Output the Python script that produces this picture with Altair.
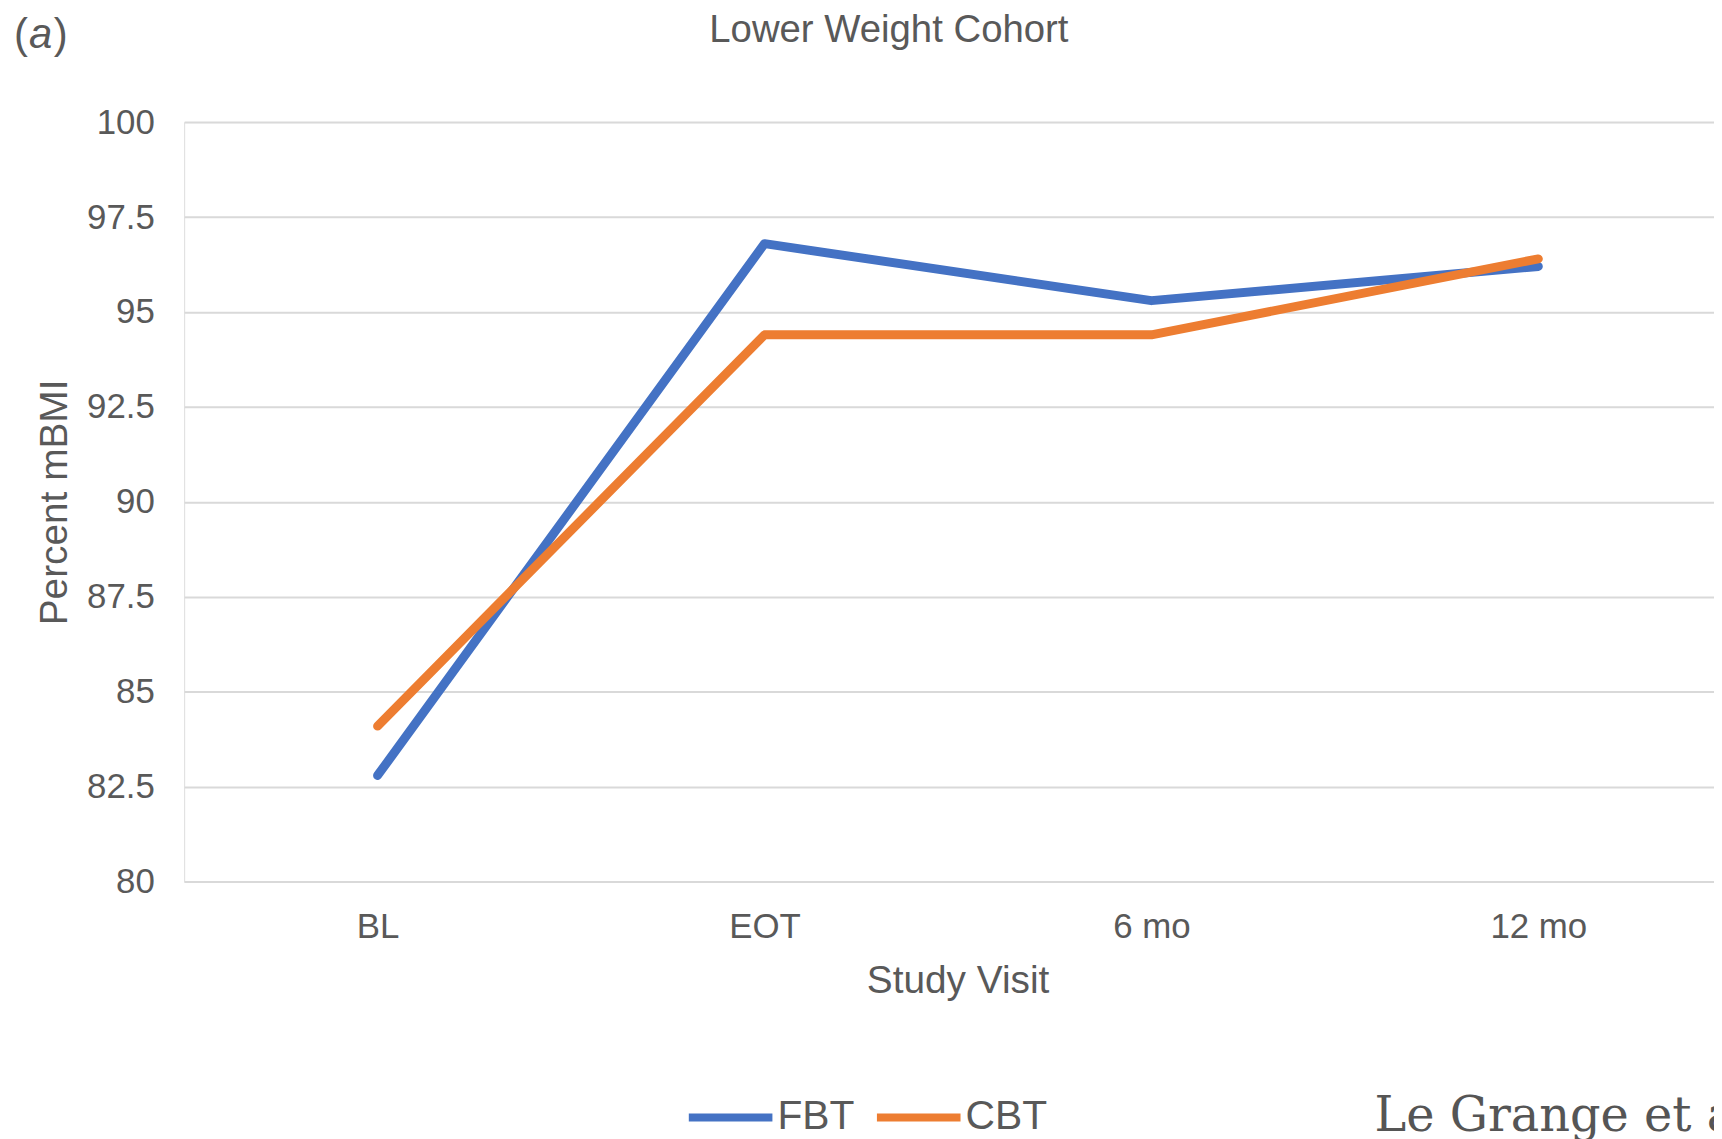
import altair as alt
import pandas as pd

# ---- data ----
visits = ["BL", "EOT", "6 mo", "12 mo"]
fbt_values = [82.8, 96.8, 95.3, 96.2]
cbt_values = [84.1, 94.4, 94.4, 96.4]
series_names = ["FBT", "CBT"]
series_colors = ["#4472C4", "#ED7D31"]
y_ticks = [80, 82.5, 85, 87.5, 90, 92.5, 95, 97.5, 100]
chart_title = "Lower Weight Cohort"
panel_open, panel_letter, panel_close = "(", "a", ")"
citation = "Le Grange et al."

FONT = "Liberation Sans"
TXT = "#595959"

df = pd.DataFrame({
    "visit": visits * 2,
    "value": fbt_values + cbt_values,
    "series": [series_names[0]] * len(visits) + [series_names[1]] * len(visits),
})

lines = alt.Chart(df).mark_line(
    strokeWidth=9, strokeCap="round", strokeJoin="round"
).encode(
    x=alt.X(
        "visit:N", sort=visits,
        scale=alt.Scale(type="point", padding=0.477, align=0.524),
        axis=alt.Axis(
            title="Study Visit", labelAngle=0, ticks=False, domain=False, grid=False,
            labelPadding=28, labelFontSize=35, labelFont=FONT, labelColor=TXT,
            titleFontSize=39, titleFont=FONT, titleColor=TXT, titleFontWeight="normal",
            titleX=777, titleY=111, titleBaseline="alphabetic", titleAlign="center",
        ),
    ),
    y=alt.Y(
        "value:Q",
        scale=alt.Scale(domain=[80, 100], nice=False, zero=False),
        axis=alt.Axis(
            values=y_ticks, format=".1~f", title="Percent mBMI",
            ticks=False, domain=False, grid=True, gridColor="#d9d9d9", gridWidth=2,
            labelPadding=30, labelFontSize=35, labelFont=FONT, labelColor=TXT,
            titleFontSize=39, titleFont=FONT, titleColor=TXT, titleFontWeight="normal",
            titleX=-118, titleY=381.6, titleAngle=270, titleBaseline="alphabetic",
            titleAlign="center",
        ),
    ),
    color=alt.Color(
        "series:N",
        scale=alt.Scale(domain=series_names, range=series_colors),
        legend=alt.Legend(
            orient="none", legendX=503, legendY=954, direction="horizontal",
            title=None, symbolType="stroke", symbolSize=7056, symbolStrokeWidth=8,
            labelFontSize=41, labelFont=FONT, labelColor=TXT, labelOffset=1,
            columnPadding=6, padding=0,
        ),
    ),
)

def note(text, x, y, size, font=FONT, style="normal", color=TXT, align="left"):
    return alt.Chart(pd.DataFrame({"t": [text]})).mark_text(
        align=align, baseline="alphabetic", fontSize=size, font=font,
        fontStyle=style, color=color,
    ).encode(x=alt.value(x), y=alt.value(y), text="t:N")

notes = [
    note(chart_title, 708, -80, 38.5, align="center"),
    note(panel_open, -171, -74, 42),
    note(panel_letter, -156, -74, 42, style="italic"),
    note(panel_close, -131, -74, 42),
    note(citation, 1196, 1014, 48, font="DejaVu Serif", color="#555555"),
]

chart = alt.layer(lines, *notes).properties(
    width=1537,
    height=763.3,
    padding={"left": 177, "top": 112, "right": 0, "bottom": 256},
    autosize=alt.AutoSizeParams(type="none"),
).configure_view(stroke=None).configure(background="white")

chart.save("out.html", embed_options={"renderer": "svg", "actions": False})
